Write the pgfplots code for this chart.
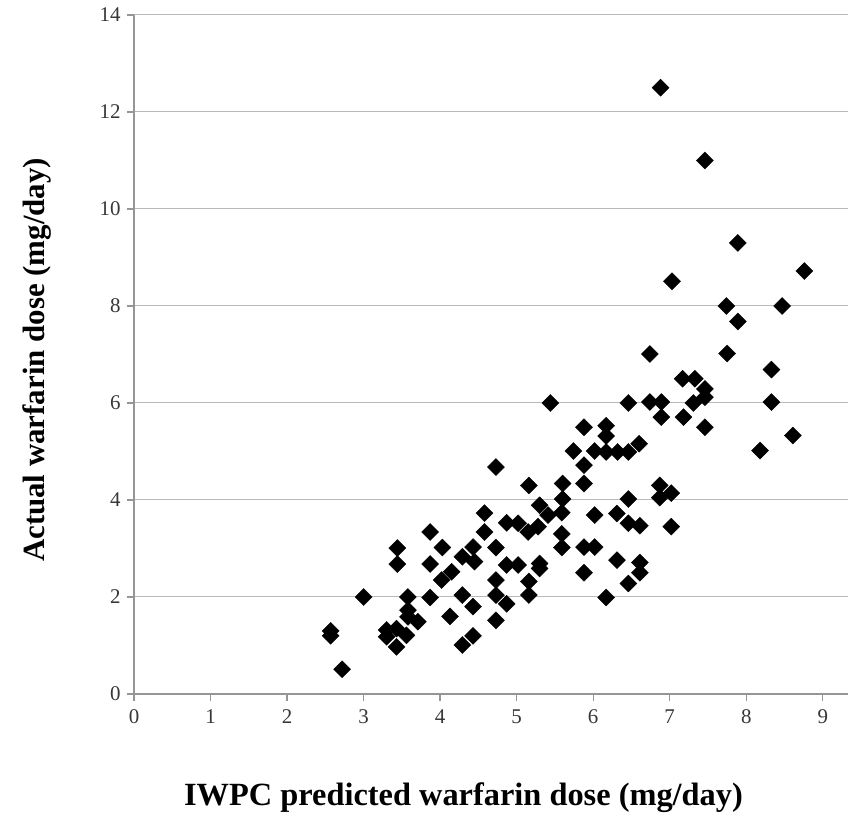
\documentclass[border=0pt]{standalone}
\usepackage{fontspec}
\setmainfont{Liberation Serif}
\usepackage{pgfplots}
\pgfplotsset{compat=1.18}
\definecolor{axgray}{RGB}{150,150,150}
\definecolor{gridgray}{RGB}{185,185,185}
\definecolor{labgray}{RGB}{55,55,55}
\begin{document}
\begin{tikzpicture}[x=1bp,y=1bp]
\useasboundingbox (0,0) rectangle (848,817);
\begin{axis}[
  at={(134bp,123bp)}, anchor=south west,
  scale only axis, width=714bp, height=679bp,
  xmin=0, xmax=9.33, ymin=0, ymax=14,
  axis lines=left,
  axis line style={axgray, line width=1.2pt, -},
  xtick={0,1,...,9}, ytick={0,2,...,14},
  xtick align=outside, ytick align=outside,
  tick style={draw=axgray, line width=1.3pt},
  major tick length=7bp,
  ymajorgrids, grid style={gridgray, line width=1pt},
  /pgf/number format/assume math mode=true,
  ticklabel style={font=\fontsize{21}{23}\selectfont, text=labgray},
  xticklabel style={yshift=-5bp},
  yticklabel style={xshift=-3bp},
  xlabel={IWPC predicted warfarin dose (mg/day)},
  ylabel={Actual warfarin dose (mg/day)},
  xlabel style={font=\bfseries\fontsize{32.5}{36}\selectfont, text=black, at={(axis description cs:0.4615,-0.152)}, anchor=center},
  ylabel style={font=\bfseries\fontsize{31}{34}\selectfont, text=black, at={(axis description cs:-0.136,0.492)}, anchor=center, rotate=0},
  clip=false,
]
\addplot[only marks, mark=square*, mark size=6bp, mark options={rotate=45, fill=black, draw=black}] coordinates {
(6.88,12.5) (7.46,11.0) (7.89,9.3) (8.76,8.72) (7.03,8.51) (7.74,8.0) (8.47,8.0) (7.89,7.68)
(6.74,7.01) (7.75,7.02) (8.33,6.69) (7.17,6.5) (7.33,6.5) (7.46,6.29) (7.46,6.12) (7.31,6.0)
(6.74,6.02) (6.89,6.02) (6.46,6.0) (5.44,6.0) (8.33,6.02) (6.89,5.71) (7.18,5.71) (7.46,5.5)
(8.61,5.33) (8.18,5.02)
(5.88,5.5) (6.17,5.53) (6.17,5.32) (5.74,5.01) (6.02,5.01) (6.17,4.99) (6.32,4.99) (6.46,4.99)
(6.60,5.16) (5.88,4.72) (4.73,4.68) (5.88,4.34) (5.60,4.34) (5.16,4.30) (6.87,4.30) (7.02,4.14)
(6.87,4.05) (6.46,4.02) (5.60,4.02) (5.30,3.89) (5.41,3.69) (5.59,3.74) (4.58,3.73) (6.02,3.69)
(6.31,3.72) (6.46,3.52) (6.61,3.47) (7.02,3.45) (4.87,3.53) (5.02,3.52) (5.15,3.34) (5.28,3.45)
(4.58,3.34) (5.59,3.30) (3.87,3.34)
(5.59,3.02) (5.88,3.03) (6.02,3.03) (4.73,3.02) (4.43,3.03) (4.03,3.02) (3.44,3.01) (4.29,2.83)
(4.45,2.73) (3.44,2.68) (3.87,2.68) (4.15,2.52) (4.87,2.66) (5.02,2.66) (5.30,2.69) (5.30,2.59)
(6.31,2.76) (6.61,2.71) (6.61,2.50) (5.88,2.50) (6.46,2.28) (4.02,2.35) (4.73,2.35) (5.16,2.32)
(6.17,1.99) (5.16,2.04) (4.73,2.04) (4.29,2.04) (3.00,2.00) (3.58,2.00) (3.87,1.99) (4.87,1.86)
(4.43,1.80) (3.58,1.73) (3.58,1.59) (3.71,1.49) (4.13,1.60) (4.73,1.52) (3.30,1.32) (3.43,1.35)
(3.30,1.18) (3.56,1.21) (4.43,1.20) (4.29,1.01) (3.43,0.97) (2.57,1.30) (2.57,1.20) (2.72,0.51)
};
\end{axis}
\end{tikzpicture}
\end{document}
